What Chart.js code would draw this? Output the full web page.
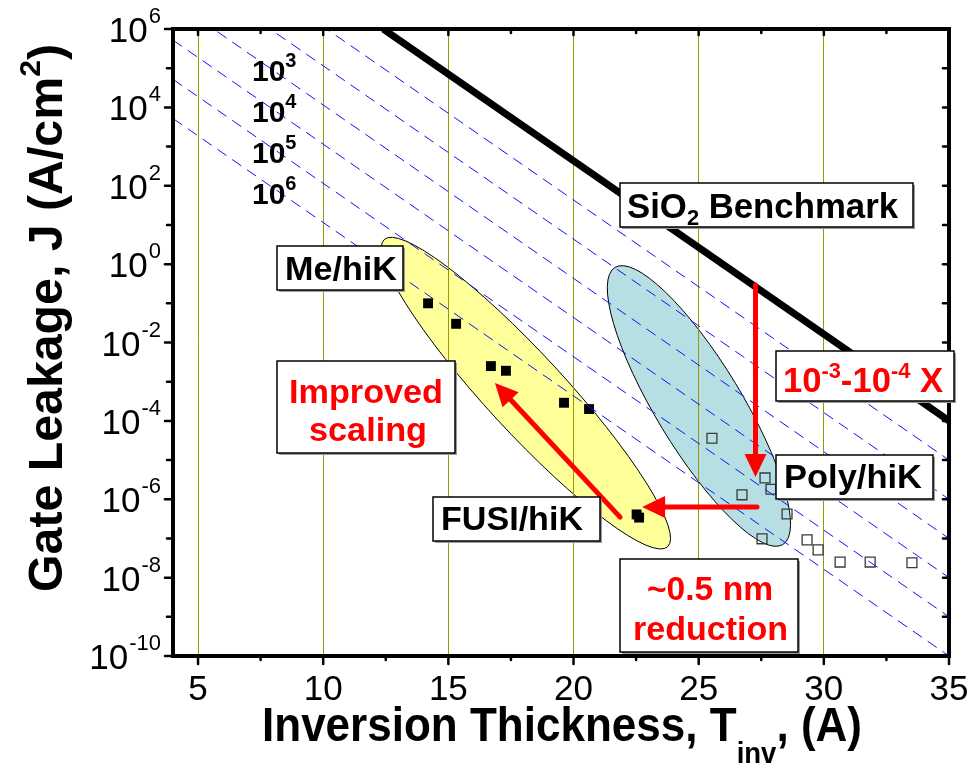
<!DOCTYPE html>
<html>
<head>
<meta charset="utf-8">
<script src="https://cdn.jsdelivr.net/npm/chart.js@4.4.0/dist/chart.umd.min.js"></script>
<style>
  html, body { margin: 0; padding: 0; background: #fff; }
  #wrap { width: 973px; height: 771px; position: relative; }
</style>
</head>
<body>
<div id="wrap"><canvas id="leakChart"></canvas></div>
<script>
// ---- data ----
const meHikX = [14.19, 15.31, 16.70, 17.30, 19.62, 20.62, 22.52, 22.62];
const meHikY = [1.0e-1, 3.0e-2, 2.5e-3, 1.9e-3, 2.9e-4, 2.0e-4, 4.1e-7, 3.4e-7];

const polyHikX = [25.53, 27.65, 27.89, 26.73, 28.53, 27.53, 29.33, 29.77, 30.65, 31.85, 33.52];
const polyHikY = [3.6e-5, 3.5e-6, 1.8e-6, 1.3e-6, 4.2e-7, 9.8e-8, 9.2e-8, 5.1e-8, 2.5e-8, 2.5e-8, 2.4e-8];

// SiO2 benchmark end points
const benchX = [12.4, 35];
const benchY = [1e6, 1e-4];

// dashed guide lines (1..6 decades under the benchmark), end points at x=4 and x=35
const guideX = [4, 35];
const guideY = [
  [5.2e8, 1e-5],
  [5.2e7, 1e-6],
  [5.2e6, 1e-7],
  [5.2e5, 1e-8],
  [5.2e4, 1e-9],
  [5.2e3, 1e-10]
];

// ellipses (centres in data units)
const ellipseX = [18.10, 25.01];
const ellipseY = [5.1e-4, 2.4e-4];

// red arrows: from -> to
const arrowFromX = [27.27, 27.33, 21.86];
const arrowFromY = [0.295, 6.3e-7, 3.5e-7];
const arrowToX = [27.27, 22.74, 16.86];
const arrowToY = [3.7e-6, 6.3e-7, 9.3e-4];

// axes
const xMajor = [5, 10, 15, 20, 25, 30, 35];
const xMinor = [7.5, 12.5, 17.5, 22.5, 27.5, 32.5];
const xGrid = [5, 10, 15, 20, 25, 30];
const yExps = [6, 5, 4, 3, 2, 1, 0, -1, -2, -3, -4, -5, -6, -7, -8, -9, -10];
const yLabelExps = [6, 4, 2, 0, -2, -4, -6, -8, -10];
const guideLabels = ["3", "4", "5", "6"];

const FONT = '"Liberation Sans", Arial, sans-serif';

const toXY = (xs, ys) => xs.map((x, i) => ({ x: x, y: ys[i] }));

// draw text made of parts (normal / sup / sub), squeezed to a width if given
function richText(ctx, parts, x, y, targetW, color) {
  let w = 0;
  parts.forEach(p => {
    ctx.font = (p.bold === false ? "" : "bold ") + p.size + "px " + FONT;
    p.w = ctx.measureText(p.t).width;
    w += p.w + (p.gap || 0);
  });
  const s = targetW ? targetW / w : 1;
  ctx.save();
  ctx.translate(x, y);
  ctx.scale(s, 1);
  ctx.fillStyle = color || "#000";
  ctx.textAlign = "left";
  ctx.textBaseline = "alphabetic";
  let cx = 0;
  parts.forEach(p => {
    ctx.font = (p.bold === false ? "" : "bold ") + p.size + "px " + FONT;
    ctx.fillText(p.t, cx + (p.gap || 0), p.dy || 0);
    cx += p.w + (p.gap || 0);
  });
  ctx.restore();
}

function box(ctx, x0, y0, x1, y1) {
  ctx.save();
  ctx.fillStyle = "#9a9a9a";
  ctx.fillRect(x0 + 2, y0 + 2, x1 - x0, y1 - y0);
  ctx.fillStyle = "#fff";
  ctx.fillRect(x0, y0, x1 - x0, y1 - y0);
  ctx.strokeStyle = "#000";
  ctx.lineWidth = 1.5;
  ctx.strokeRect(x0, y0, x1 - x0, y1 - y0);
  ctx.restore();
}

function arrow(ctx, x0, y0, x1, y1) {
  const ang = Math.atan2(y1 - y0, x1 - x0);
  const headL = 23, headW = 11;
  const bx = x1 - headL * Math.cos(ang), by = y1 - headL * Math.sin(ang);
  ctx.save();
  ctx.strokeStyle = "#ff0000";
  ctx.fillStyle = "#ff0000";
  ctx.lineWidth = 5;
  ctx.lineCap = "round";
  ctx.beginPath();
  ctx.moveTo(x0, y0);
  ctx.lineTo(bx + 4 * Math.cos(ang), by + 4 * Math.sin(ang));
  ctx.stroke();
  ctx.beginPath();
  ctx.moveTo(x1, y1);
  ctx.lineTo(bx + headW * Math.sin(ang), by - headW * Math.cos(ang));
  ctx.lineTo(bx - headW * Math.sin(ang), by + headW * Math.cos(ang));
  ctx.closePath();
  ctx.fill();
  ctx.restore();
}

const decor = {
  id: "decor",
  beforeDraw(chart) {
    const { ctx, scales: { x, y } } = chart;
    ctx.save();
    ctx.fillStyle = "#fff";
    ctx.fillRect(0, 0, chart.width, chart.height);
    const fills = ["#ffff99", "#b6dfe3"];
    const semiA = [209, 162], semiB = [39, 43], tilt = [47.3, 58.8];
    ellipseX.forEach((ex, i) => {
      ctx.beginPath();
      ctx.ellipse(x.getPixelForValue(ex), y.getPixelForValue(ellipseY[i]),
        semiA[i], semiB[i], tilt[i] * Math.PI / 180, 0, Math.PI * 2);
      ctx.fillStyle = fills[i];
      ctx.fill();
      ctx.strokeStyle = "#000";
      ctx.lineWidth = 1;
      ctx.stroke();
    });
    ctx.restore();
  },
  afterDatasetsDraw(chart) {
    const { ctx, scales: { x, y } } = chart;
    arrowFromX.forEach((fx, i) => {
      arrow(ctx, x.getPixelForValue(fx), y.getPixelForValue(arrowFromY[i]),
        x.getPixelForValue(arrowToX[i]), y.getPixelForValue(arrowToY[i]));
    });
  },
  afterDraw(chart) {
    const { ctx, chartArea: a, scales: { x, y } } = chart;
    ctx.save();
    // frame
    ctx.strokeStyle = "#000";
    ctx.lineWidth = 4;
    ctx.strokeRect(a.left, a.top, a.right - a.left, a.bottom - a.top);

    // ticks
    ctx.lineWidth = 2.5;
    ctx.lineCap = "round";
    const line = (x0, y0, x1, y1) => { ctx.beginPath(); ctx.moveTo(x0, y0); ctx.lineTo(x1, y1); ctx.stroke(); };
    xMajor.forEach(v => {
      const px = x.getPixelForValue(v);
      line(px, a.bottom, px, a.bottom + 8);
      line(px, a.top, px, a.top + 6);
    });
    xMinor.forEach(v => {
      const px = x.getPixelForValue(v);
      line(px, a.bottom, px, a.bottom + 4);
      line(px, a.top, px, a.top + 4);
    });
    yExps.forEach(e => {
      const py = y.getPixelForValue(Math.pow(10, e));
      const major = yLabelExps.includes(e);
      line(a.left - (major ? 8 : 6), py, a.left, py);
      line(a.right - 6, py, a.right, py);
    });

    // tick labels
    ctx.fillStyle = "#000";
    ctx.textBaseline = "alphabetic";
    ctx.font = "35px " + FONT;
    ctx.textAlign = "center";
    xMajor.forEach(v => ctx.fillText(String(v), x.getPixelForValue(v), a.bottom + 44));
    yLabelExps.forEach(e => {
      const py = y.getPixelForValue(Math.pow(10, e));
      ctx.textAlign = "right";
      ctx.font = "22px " + FONT;
      const sup = e < 0 ? "-" + Math.abs(e) : String(e);
      ctx.fillText(sup, 161, py - 6);
      const sw = ctx.measureText(sup).width;
      ctx.font = "35px " + FONT;
      ctx.fillText("10", 161 - sw - 1, py + 13);
    });

    // axis titles
    richText(ctx, [
      { t: "Inversion Thickness, T", size: 48 },
      { t: "inv", size: 30, dy: 22 },
      { t: ", (A)", size: 48 }
    ], 262, 741, 600);
    ctx.save();
    ctx.translate(62, 592);
    ctx.rotate(-Math.PI / 2);
    richText(ctx, [
      { t: "Gate Leakage, J (A/cm", size: 48 },
      { t: "2", size: 30, dy: -22 },
      { t: ")", size: 48 }
    ], 0, 0, 548);
    ctx.restore();

    // decade labels next to dashed lines
    const gBase = [81, 122, 163, 204];
    guideLabels.forEach((g, i) => {
      richText(ctx, [
        { t: "10", size: 30 },
        { t: g, size: 20, dy: -14 }
      ], 252, gBase[i]);
    });

    // text boxes
    box(ctx, 620, 183, 913, 227);
    richText(ctx, [
      { t: "SiO", size: 35 },
      { t: "2", size: 22, dy: 7 },
      { t: " Benchmark", size: 35 }
    ], 627, 218, 271);

    box(ctx, 277, 246, 403, 290);
    richText(ctx, [{ t: "Me/hiK", size: 33 }], 285, 280, 112);

    box(ctx, 277, 361, 455, 453);
    richText(ctx, [{ t: "Improved", size: 34 }], 289, 403, 154, "#ff0000");
    richText(ctx, [{ t: "scaling", size: 34 }], 309, 441, 118, "#ff0000");

    box(ctx, 433, 497, 600, 541);
    richText(ctx, [{ t: "FUSI/hiK", size: 33 }], 441, 530, 142);

    box(ctx, 776, 351, 954, 401);
    richText(ctx, [
      { t: "10", size: 35 },
      { t: "-3", size: 22, dy: -14 },
      { t: "-10", size: 35 },
      { t: "-4", size: 22, dy: -14 },
      { t: " X", size: 35 }
    ], 783, 392, 160, "#ff0000");

    box(ctx, 776, 455, 933, 499);
    richText(ctx, [{ t: "Poly/hiK", size: 33 }], 784, 488, 138);

    box(ctx, 620, 559, 798, 652);
    richText(ctx, [{ t: "~0.5 nm", size: 34 }], 647, 600, 126, "#ff0000");
    richText(ctx, [{ t: "reduction", size: 34 }], 633, 640, 155, "#ff0000");
    ctx.restore();
  }
};

const guideSets = guideY.map((gy, i) => ({
  label: "guide " + (i + 1),
  data: toXY(guideX, gy),
  showLine: true,
  borderColor: "#1010ff",
  borderWidth: 1,
  borderDash: [11, 7],
  pointRadius: 0,
  clip: 0
}));

new Chart(document.getElementById("leakChart"), {
  type: "scatter",
  data: {
    datasets: [
      ...guideSets,
      {
        label: "SiO2 Benchmark",
        data: toXY(benchX, benchY),
        showLine: true,
        borderColor: "#000",
        borderWidth: 7,
        pointRadius: 0,
        clip: 0
      },
      {
        label: "Me/hiK",
        data: toXY(meHikX, meHikY),
        pointStyle: "rect",
        pointRadius: 7,
        backgroundColor: "#000",
        borderColor: "#000",
        borderWidth: 0
      },
      {
        label: "Poly/hiK",
        data: toXY(polyHikX, polyHikY),
        pointStyle: "rect",
        pointRadius: 7,
        backgroundColor: "rgba(0,0,0,0)",
        borderColor: "#3a3a3a",
        borderWidth: 1.3
      }
    ]
  },
  options: {
    responsive: true,
    maintainAspectRatio: false,
    animation: false,
    events: [],
    layout: { padding: { top: 29, right: 24, left: 0, bottom: 0 } },
    plugins: { legend: { display: false }, tooltip: { enabled: false } },
    scales: {
      x: {
        type: "linear",
        min: 4,
        max: 35,
        afterBuildTicks: s => { s.ticks = xGrid.map(v => ({ value: v })); },
        afterFit: s => { s.height = 115; },
        ticks: { display: false },
        border: { display: false },
        grid: { color: "#999900", lineWidth: 1, drawTicks: false }
      },
      y: {
        type: "logarithmic",
        min: 1e-10,
        max: 1e6,
        afterBuildTicks: s => { s.ticks = yExps.map(e => ({ value: Math.pow(10, e) })); },
        afterFit: s => { s.width = 173; },
        ticks: { display: false },
        border: { display: false },
        grid: { display: false }
      }
    }
  },
  plugins: [decor]
});
</script>
</body>
</html>
